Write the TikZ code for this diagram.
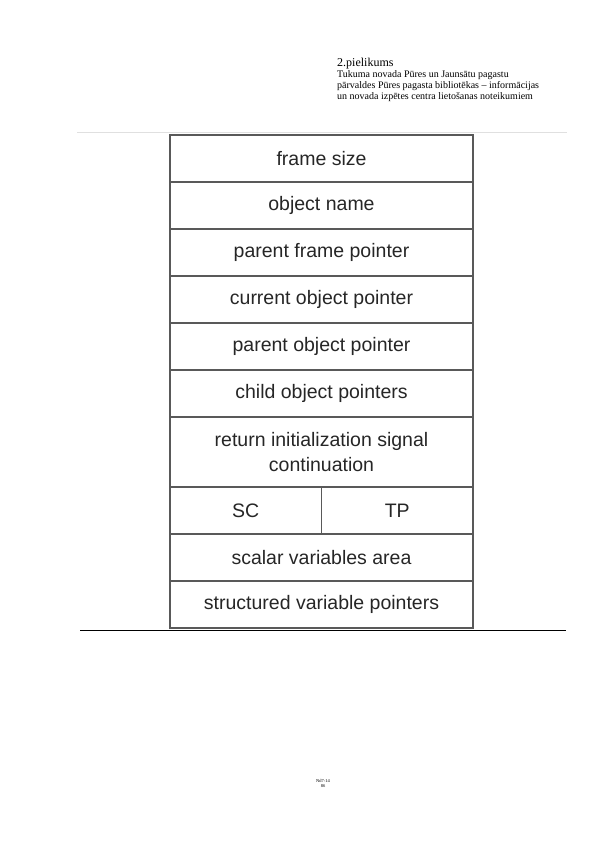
\documentclass[tikz,border=0pt]{standalone}
\usepackage{fontspec}
\setmainfont{Liberation Serif}
\setsansfont{Liberation Sans}
\usetikzlibrary{positioning}

\begin{document}
\begin{tikzpicture}[x=1pt, y=-1pt,
	cell/.style={draw=black!65, line width=1.1pt, outer sep=0pt, inner sep=0pt,
		minimum width=303pt, minimum height=47pt, align=center, text=black!85,
		font=\sffamily\fontsize{19.5}{25}\selectfont},
	half/.style={cell, minimum width=151.5pt},
	head/.style={anchor=base west, inner sep=0pt, font=\fontsize{10}{11}\selectfont}]
	\useasboundingbox (0,0) rectangle (596,842);

	% header of the annex
	\node[head, font=\fontsize{12}{14}\selectfont] (annex) at (337,67) {2.pielikums};
	\node[head] (title1) at (337,78) {Tukuma novada Pūres un Jaunsātu pagastu};
	\node[head] (title2) at (337,89) {pārvaldes Pūres pagasta bibliotēkas – informācijas};
	\node[head] (title3) at (337,100) {un novada izpētes centra lietošanas noteikumiem};

	% frame layout
	\coordinate (topl) at (77,132);
	\coordinate (topr) at (567,132);
	\draw[black!12] (topl) -- (topr);

	\node[cell, anchor=north west] (size) at (170,135) {frame size};
	\node[cell, below=0pt of size] (name) {object name};
	\node[cell, below=0pt of name] (pframe) {parent frame pointer};
	\node[cell, below=0pt of pframe] (cobj) {current object pointer};
	\node[cell, below=0pt of cobj] (pobj) {parent object pointer};
	\node[cell, below=0pt of pobj] (child) {child object pointers};
	\node[cell, below=0pt of child, minimum height=70pt] (ret) {return initialization signal\\continuation};
	\node[half, anchor=north west] (sc) at (ret.south west) {SC};
	\node[half, anchor=north west] (tp) at (sc.north east) {TP};
	\node[cell, anchor=north west] (scalar) at (sc.south west) {scalar variables area};
	\node[cell, below=0pt of scalar] (structd) {structured variable pointers};

	\coordinate (rulel) at (80,630.5);
	\coordinate (ruler) at (566,630.5);
	\draw[line width=1pt] (rulel) -- (ruler);

	% footer
	\node[anchor=base, inner sep=0pt, font=\fontsize{4.5}{5.5}\selectfont] (code) at (323,782.3) {Nd7-14};
	\node[anchor=base, inner sep=0pt, font=\fontsize{4.5}{5.5}\selectfont] (page) at (323,787.8) {86};
\end{tikzpicture}
\end{document}
